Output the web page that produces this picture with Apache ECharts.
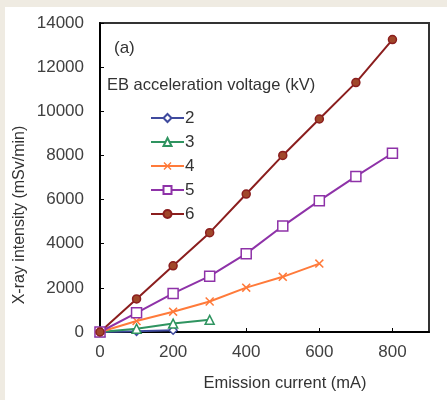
<!DOCTYPE html>
<html>
<head>
<meta charset="utf-8">
<script src="https://cdn.jsdelivr.net/npm/echarts@6/dist/echarts.min.js"></script>
<style>
  html, body { margin: 0; padding: 0; background: #ffffff; }
  #chart { width: 447px; height: 400px; }
</style>
</head>
<body>
<div id="chart"></div>
<script>
// emission current (mA) for each series
const current2 = [0, 100, 200];
const current3 = [0, 100, 200, 300];
const current4 = [0, 100, 200, 300, 400, 500, 600];
const current5 = [0, 100, 200, 300, 400, 500, 600, 700, 800];
const current6 = [0, 100, 200, 300, 400, 500, 600, 700, 800];

// x-ray intensity (mSv/min)
const kv2 = [0, 30, 80];
const kv3 = [0, 150, 380, 550];
const kv4 = [0, 500, 920, 1380, 2010, 2500, 3100];
const kv5 = [0, 870, 1750, 2530, 3550, 4800, 5950, 7050, 8100];
const kv6 = [0, 1500, 3000, 4500, 6250, 8000, 9650, 11300, 13250];

const seriesNames = ["2", "3", "4", "5", "6"];

const font = "Liberation Sans, Arial, sans-serif";
const xMark = "path://M0,1.2L1.2,0L5,3.8L8.8,0L10,1.2L6.2,5L10,8.8L8.8,10L5,6.2L1.2,10L0,8.8L3.8,5Z";

function pairs(xs, ys) {
  return xs.map((x, i) => [x, ys[i]]);
}

function lineSeries(name, xs, ys, color, symbol, size, fill) {
  const itemStyle = fill
    ? { color: fill, borderColor: color, borderWidth: 1.5 }
    : { color };
  return {
    name,
    type: "line",
    data: pairs(xs, ys),
    symbol,
    symbolSize: size,
    showAllSymbol: true,
    lineStyle: { color, width: 2 },
    itemStyle,
    z: 3,
  };
}

const chart = echarts.init(document.getElementById("chart"));

const option = {
  backgroundColor: "#ffffff",
  animation: false,
  grid: {
    left: 100,
    right: 18,
    top: 23,
    bottom: 68,
    show: true,
    borderColor: "#333333",
    borderWidth: 2,
  },
  graphic: [
    { type: "rect", shape: { x: 0, y: 0, width: 447, height: 7 }, style: { fill: "#efebe2" } },
    { type: "rect", shape: { x: 0, y: 0, width: 5, height: 400 }, style: { fill: "#efebe2" } },
    {
      type: "text", x: 114, y: 48,
      style: { text: "(a)", font: "17px " + font, fill: "#333333", verticalAlign: "middle" },
    },
    {
      type: "text", x: 107, y: 85,
      style: { text: "EB acceleration voltage (kV)", font: "16.5px " + font, fill: "#333333", verticalAlign: "middle" },
    },
    {
      type: "text", x: 20, y: 215, rotation: Math.PI / 2,
      style: { text: "X-ray intensity (mSv/min)", font: "16px " + font, fill: "#333333", align: "center", verticalAlign: "middle" },
    },
    {
      type: "text", x: 285, y: 383,
      style: { text: "Emission current (mA)", font: "16.5px " + font, fill: "#333333", align: "center", verticalAlign: "middle" },
    },
  ],
  legend: {
    orient: "vertical",
    left: 145,
    top: 104,
    itemWidth: 33,
    itemHeight: 10,
    itemGap: 6,
    data: seriesNames,
    textStyle: { fontSize: 17, fontFamily: font, color: "#333333", lineHeight: 18, padding: [0, 0, 0, -4] },
  },
  xAxis: {
    type: "value",
    min: 0,
    max: 900,
    interval: 200,
    axisLine: { show: true, onZero: false, lineStyle: { color: "#000000", width: 2 } },
    axisTick: { show: true, inside: true, length: 4, lineStyle: { color: "#000000" } },
    axisLabel: { color: "#404040", fontSize: 17, fontFamily: font, margin: 12, showMaxLabel: false, formatter: (v) => String(v) },
    splitLine: { show: false },
  },
  yAxis: {
    type: "value",
    min: 0,
    max: 14000,
    interval: 2000,
    axisLine: { show: true, onZero: false, lineStyle: { color: "#000000", width: 2 } },
    axisTick: { show: true, inside: true, length: 4, lineStyle: { color: "#000000" } },
    axisLabel: { color: "#404040", fontSize: 17, fontFamily: font, margin: 16, formatter: (v) => String(v) },
    splitLine: { show: false },
  },
  series: [
    lineSeries("2", current2, kv2, "#3f4a9e", "diamond", 8, "#ffffff"),
    lineSeries("3", current3, kv3, "#2f9460", "triangle", 9, "#ffffff"),
    lineSeries("4", current4, kv4, "#ff7a3a", xMark, 9),
    lineSeries("5", current5, kv5, "#8e32a8", "rect", 10, "#ffffff"),
    lineSeries("6", current6, kv6, "#8b1e1e", "circle", 8, "#a0472a"),
  ],
};

chart.setOption(option);
</script>
</body>
</html>
